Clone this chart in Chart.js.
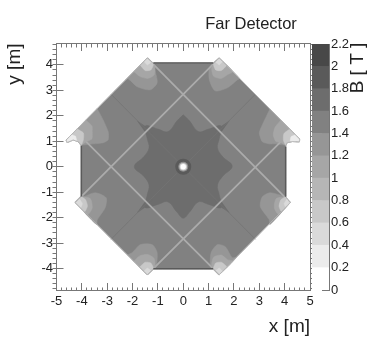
<!DOCTYPE html>
<html>
<head>
<meta charset="utf-8">
<title>Far Detector</title>
<script src="https://cdn.jsdelivr.net/npm/chart.js@4"></script>
<style>
  html, body { margin: 0; padding: 0; background: #fff; }
  canvas { position: absolute; top: 0; }
  #field { left: 0; }
  #palette { left: 300px; }
</style>
</head>
<body>
<canvas id="field" width="374" height="363"></canvas>
<canvas id="palette" width="74" height="363"></canvas>
<script>
// ── Axis ranges and colour bands ────────────────────────────────────────
const xRange = [-5, 5];
const yRange = [-4.84, 4.84];
const bandTicks = [0, 0.2, 0.4, 0.6, 0.8, 1, 1.2, 1.4, 1.6, 1.8, 2, 2.2];
const bandGreys = ["#ffffff", "#ececec", "#dadada", "#c8c8c8", "#b6b6b6", "#a6a6a6",
                   "#969696", "#818181", "#6d6d6d", "#5a5a5a", "#484848"];

// ── Contours, [x, y] in metres ──────────────────────────────────────────
const outline = [[-1.42,4.27],[-1.18,4.07],[1.18,4.07],[1.42,4.27],[4.59,1.09],[4.58,0.98],[4.3,0.99],[4.09,0.94],[4.04,0.8],
  [4.04,-1.18],[4.22,-1.41],[1.42,-4.24],[1.18,-4.01],[-1.18,-4.01],[-1.42,-4.24],[-4.26,-1.41],[-4.02,-1.17],[-4.02,0.82],
  [-4.14,0.98],[-4.34,1.05],[-4.58,0.95],[-4.62,1.05],[-1.42,4.27]];

const star = [[0,2.04],[0.25,1.8],[0.6,1.38],[1.0,1.48],[1.5,1.6],[1.42,1.1],[1.35,0.74],[1.55,0.4],[1.93,0.02],[1.55,-0.38],
  [1.35,-0.72],[1.42,-1.1],[1.5,-1.6],[1.0,-1.48],[0.6,-1.38],[0.25,-1.78],[0,-2.02],[-0.25,-1.78],[-0.6,-1.38],[-1.0,-1.48],
  [-1.5,-1.6],[-1.42,-1.1],[-1.35,-0.72],[-1.55,-0.38],[-1.93,0],[-1.55,0.4],[-1.35,0.74],[-1.42,1.1],[-1.5,1.6],[-1.0,1.48],
  [-0.6,1.38],[-0.25,1.8],[0,2.04]];

const sliverUL = [[-1.82,1.8],[-1.4,1.52],[-1.2,1.28],[-1.55,1.42]];
const sliverUR = [[1.82,1.8],[1.4,1.52],[1.2,1.28],[1.55,1.42]];
const sliverLL = [[-1.82,-1.8],[-1.4,-1.52],[-1.2,-1.28],[-1.55,-1.42]];
const sliverLR = [[1.82,-1.8],[1.4,-1.52],[1.2,-1.28],[1.55,-1.42]];

const topLeft1 = [[-2.3,3.39],[-2.17,3.45],[-1.81,3.14],[-1.3,3.02],[-1.03,3.29],[-1.1,3.73],[-1.18,4.05],[-1.42,4.27]];
const topLeft2 = [[-1.95,3.74],[-1.72,3.55],[-1.4,3.47],[-1.15,3.6],[-1.12,3.9],[-1.18,4.05],[-1.42,4.27]];
const topLeft3 = [[-1.7,3.99],[-1.5,3.78],[-1.28,3.8],[-1.18,4.03],[-1.42,4.27]];
const topLeft4 = [[-1.55,4.14],[-1.42,4.0],[-1.28,4.1],[-1.42,4.27]];

const topRight1 = [[1.18,4.05],[1.03,3.9],[1.03,3.41],[1.26,2.98],[1.74,3.1],[2.13,3.41],[2.22,3.47],[1.42,4.27]];
const topRight2 = [[1.18,4.05],[1.12,3.85],[1.2,3.55],[1.5,3.47],[1.75,3.62],[1.95,3.74],[1.42,4.27]];
const topRight3 = [[1.18,4.03],[1.28,3.8],[1.5,3.78],[1.7,3.99],[1.42,4.27]];
const topRight4 = [[1.28,4.1],[1.42,4.0],[1.55,4.14],[1.42,4.27]];

const leftSpike1 = [[-3.4,2.29],[-3.16,1.84],[-2.96,1.37],[-2.96,1.06],[-3.16,0.94],[-3.55,0.9],[-4.02,0.86],[-4.14,0.98],[-4.34,1.05],[-4.58,0.95],[-4.62,1.05]];
const leftSpike2 = [[-3.85,1.84],[-3.6,1.6],[-3.59,1.37],[-3.6,1.1],[-3.83,0.98],[-4.02,0.86],[-4.14,0.98],[-4.34,1.05],[-4.58,0.95],[-4.62,1.05]];
const leftSpike3 = [[-4.2,1.49],[-3.94,1.33],[-3.94,1.06],[-4.02,0.86],[-4.14,0.98],[-4.34,1.05],[-4.58,0.95],[-4.62,1.05]];
const leftSpike4 = [[-4.42,1.27],[-4.25,1.2],[-4.2,1.0],[-4.34,1.05],[-4.58,0.95],[-4.62,1.05]];

const rightSpike1 = [[3.42,2.27],[3.12,1.65],[3.0,1.33],[3.12,0.98],[3.4,0.9],[3.63,0.9],[4.04,0.85],[4.09,0.94],[4.3,0.99],[4.58,0.98],[4.59,1.09]];
const rightSpike2 = [[3.85,1.83],[3.62,1.55],[3.55,1.25],[3.65,1.0],[3.85,0.95],[4.04,0.85],[4.09,0.94],[4.3,0.99],[4.58,0.98],[4.59,1.09]];
const rightSpike3 = [[4.2,1.48],[3.97,1.3],[3.95,1.05],[4.04,0.85],[4.09,0.94],[4.3,0.99],[4.58,0.98],[4.59,1.09]];
const rightSpike4 = [[4.42,1.26],[4.25,1.18],[4.22,1.0],[4.3,0.99],[4.58,0.98],[4.59,1.09]];

const lowerLeft1 = [[-4.02,-1.15],[-3.94,-1.18],[-3.47,-1.02],[-3.04,-1.22],[-3.08,-1.61],[-3.39,-2.08],[-3.42,-2.27],[-4.26,-1.41]];
const lowerLeft2 = [[-4.02,-1.17],[-3.67,-1.25],[-3.59,-1.61],[-3.75,-1.88],[-3.83,-1.83],[-4.26,-1.41]];
const lowerLeft3 = [[-4.02,-1.17],[-3.85,-1.3],[-3.78,-1.55],[-3.9,-1.77],[-4.26,-1.41]];
const lowerLeft4 = [[-4.1,-1.25],[-3.98,-1.45],[-4.05,-1.62],[-4.26,-1.41]];

const lowerRight1 = [[4.04,-1.18],[3.43,-1.02],[3.12,-1.18],[3.04,-1.57],[3.39,-2.08],[3.42,-2.27],[4.22,-1.41]];
const lowerRight2 = [[4.04,-1.18],[3.67,-1.25],[3.59,-1.61],[3.75,-1.88],[3.81,-1.85],[4.22,-1.41]];
const lowerRight3 = [[4.04,-1.18],[3.85,-1.3],[3.78,-1.55],[3.88,-1.76],[4.22,-1.41]];
const lowerRight4 = [[4.1,-1.25],[3.98,-1.45],[4.05,-1.6],[4.22,-1.41]];

const bottomLeft1 = [[-2.2,-3.46],[-2.01,-3.37],[-1.7,-3.06],[-1.22,-3.06],[-1.03,-3.37],[-1.07,-3.92],[-1.18,-4.01],[-1.42,-4.24]];
const bottomLeft2 = [[-1.95,-3.71],[-1.72,-3.5],[-1.4,-3.45],[-1.15,-3.6],[-1.12,-3.9],[-1.18,-4.01],[-1.42,-4.24]];
const bottomLeft3 = [[-1.72,-3.94],[-1.5,-3.75],[-1.28,-3.78],[-1.18,-4.0],[-1.42,-4.24]];
const bottomLeft4 = [[-1.55,-4.11],[-1.42,-3.98],[-1.28,-4.08],[-1.42,-4.24]];

const bottomRight1 = [[1.18,-4.01],[1.07,-3.92],[1.1,-3.37],[1.34,-3.06],[1.66,-3.14],[1.93,-3.57],[2.1,-3.56],[1.42,-4.24]];
const bottomRight2 = [[1.18,-4.01],[1.12,-3.85],[1.2,-3.55],[1.5,-3.47],[1.75,-3.65],[1.95,-3.71],[1.42,-4.24]];
const bottomRight3 = [[1.18,-4.0],[1.28,-3.78],[1.5,-3.75],[1.72,-3.94],[1.42,-4.24]];
const bottomRight4 = [[1.28,-4.08],[1.42,-3.98],[1.55,-4.11],[1.42,-4.24]];

// light gaps between the steel plates, thin seams through the centre, dark straight edges
const gaps = [[[-1.42,4.27],[4.22,-1.41]], [[1.42,4.27],[-4.26,-1.41]], [[-4.02,1.17],[1.42,-4.24]], [[4.04,1.17],[-1.42,-4.24]]];
const seams = [[[-2.85,2.85],[2.85,-2.85]], [[2.85,2.85],[-2.85,-2.85]]];
const edges = [[[-1.18,4.07],[1.18,4.07]], [[1.18,-4.01],[-1.18,-4.01]], [[-4.02,0.82],[-4.02,-1.17]], [[4.04,0.8],[4.04,-1.18]]];

// ── Helpers ─────────────────────────────────────────────────────────────
const FONT = "'Liberation Sans', Arial, sans-serif";
const TICK = "#777777";
const INK = "#222222";

function toPoints(pts) {
  return pts.map(p => ({ x: p[0], y: p[1] }));
}

function band(pts, level, tension) {
  const c = bandGreys[level];
  return { data: toPoints(pts), showLine: true, fill: "shape", backgroundColor: c, borderColor: c,
           borderWidth: 0.5, tension: tension, pointRadius: 0 };
}

function stroke(pts, color, width) {
  return { data: toPoints(pts), showLine: true, fill: false, borderColor: color, borderWidth: width,
           tension: 0.001, pointRadius: 0 };
}

function dot(radius, color) {
  return { data: [{ x: 0, y: 0 }], showLine: false, pointRadius: radius, pointBackgroundColor: color,
           pointBorderWidth: 0 };
}

function tickAxis(range, step, len, pos) {
  return {
    type: "linear", min: range[0], max: range[1], position: pos,
    ticks: { display: false, stepSize: step, includeBounds: false, autoSkip: false },
    grid: { drawOnChartArea: false, tickLength: len, tickColor: TICK },
    border: { display: true, color: TICK },
  };
}

function labelText(chart, text, x, y, size, rot) {
  const ctx = chart.ctx;
  ctx.save();
  ctx.translate(x, y);
  ctx.rotate(rot);
  ctx.font = size + "px " + FONT;
  ctx.fillStyle = INK;
  ctx.textAlign = "center";
  ctx.textBaseline = "middle";
  ctx.fillText(text, 0, 0);
  ctx.restore();
}

// ── Field map, listed in painting order ─────────────────────────────────
const painted = [
  band(outline, 7, 0.001),
  band(star, 8, 0.4),
  band(sliverUL, 8, 0.001), band(sliverUR, 8, 0.001), band(sliverLL, 8, 0.001), band(sliverLR, 8, 0.001),
  ...seams.map(s => stroke(s, "#747474", 0.8)),
  band(topLeft1, 6, 0.25), band(topRight1, 6, 0.25), band(leftSpike1, 6, 0.2), band(rightSpike1, 6, 0.2),
  band(lowerLeft1, 6, 0.25), band(lowerRight1, 6, 0.25), band(bottomLeft1, 6, 0.25), band(bottomRight1, 6, 0.25),
  ...gaps.map(g => stroke(g, "#ababab", 1.8)),
  band(topLeft2, 5, 0.25), band(topLeft3, 3, 0.2), band(topLeft4, 2, 0.1),
  band(topRight2, 5, 0.25), band(topRight3, 3, 0.2), band(topRight4, 2, 0.1),
  band(leftSpike2, 5, 0.2), band(leftSpike3, 3, 0.2), band(leftSpike4, 1, 0.1),
  band(rightSpike2, 5, 0.2), band(rightSpike3, 3, 0.2), band(rightSpike4, 1, 0.1),
  band(lowerLeft2, 5, 0.25), band(lowerLeft3, 3, 0.2), band(lowerLeft4, 2, 0.1),
  band(lowerRight2, 5, 0.25), band(lowerRight3, 3, 0.2), band(lowerRight4, 2, 0.1),
  band(bottomLeft2, 5, 0.25), band(bottomLeft3, 3, 0.2), band(bottomLeft4, 2, 0.1),
  band(bottomRight2, 5, 0.25), band(bottomRight3, 3, 0.2), band(bottomRight4, 2, 0.1),
  stroke(outline, "#b4b4b4", 1),
  ...edges.map(e => stroke(e, "#5a5a5a", 1.5)),
  dot(8, "#5a5a5a"), dot(5, "#8f8f8f"), dot(3.8, "#cfcfcf"), dot(2.7, "#ffffff"),
];

new Chart(document.getElementById("field"), {
  type: "scatter",
  data: { datasets: painted.slice().reverse() },
  options: {
    responsive: false,
    animation: false,
    layout: { padding: { top: 43.5, right: 64, left: 0, bottom: 25 } },
    plugins: { legend: { display: false }, tooltip: { enabled: false } },
    scales: {
      x: {
        type: "linear", min: xRange[0], max: xRange[1], position: "bottom",
        afterFit: s => { s.height = 48; },
        title: { display: true, text: "x [m]", align: "end", color: INK, font: { family: FONT, size: 19 }, padding: { top: 0, bottom: 0 } },
        ticks: { stepSize: 1, autoSkip: false, padding: 11, color: INK, font: { family: FONT, size: 13 }, maxRotation: 0 },
        grid: { drawOnChartArea: false, tickLength: -7, tickColor: TICK },
        border: { display: true, color: TICK },
      },
      y: {
        type: "linear", min: yRange[0], max: yRange[1], position: "left",
        afterFit: s => { s.width = 56.5; },
        title: { display: true, text: "y [m]", align: "end", color: INK, font: { family: FONT, size: 19 }, padding: { top: 3, bottom: 0 } },
        ticks: { stepSize: 1, includeBounds: false, autoSkip: false, padding: 10.5, color: INK, font: { family: FONT, size: 13 } },
        grid: { drawOnChartArea: false, tickLength: -7, tickColor: TICK },
        border: { display: true, color: TICK },
      },
      xBottomMinor: { axis: "x", ...tickAxis(xRange, 0.2, -3.5, { y: yRange[0] }) },
      xTopMajor: { axis: "x", ...tickAxis(xRange, 1, 7, { y: yRange[1] }) },
      xTopMinor: { axis: "x", ...tickAxis(xRange, 0.2, 3.5, { y: yRange[1] }) },
      yLeftMinor: { axis: "y", ...tickAxis(yRange, 0.2, 3.5, { x: xRange[0] }) },
      yRightMajor: { axis: "y", ...tickAxis(yRange, 1, -7, { x: xRange[1] }) },
      yRightMinor: { axis: "y", ...tickAxis(yRange, 0.2, -3.5, { x: xRange[1] }) },
    },
  },
  plugins: [{
    id: "farDetectorTitle",
    afterDraw: chart => labelText(chart, "Far Detector", 251, 24, 16.5, 0),
  }],
});

// ── Palette ─────────────────────────────────────────────────────────────
new Chart(document.getElementById("palette"), {
  type: "bar",
  data: {
    labels: ["B"],
    datasets: bandGreys.map((c, i) => ({
      data: [+(bandTicks[i + 1] - bandTicks[i]).toFixed(1)],
      backgroundColor: c, barPercentage: 1, categoryPercentage: 1,
    })),
  },
  options: {
    responsive: false,
    animation: false,
    layout: { padding: { top: 44, left: 12, right: 0, bottom: 73 } },
    plugins: { legend: { display: false }, tooltip: { enabled: false } },
    scales: {
      x: { stacked: true, display: false },
      y: {
        stacked: true, min: 0, max: 2.2, position: "right",
        afterFit: s => { s.width = 45; },
        ticks: {
          stepSize: 0.2, autoSkip: false, padding: 9, color: INK, font: { family: FONT, size: 13 },
          callback: v => String(+v.toFixed(1)),
        },
        grid: { drawOnChartArea: false, tickLength: -7, tickColor: TICK },
        border: { display: true, color: TICK },
      },
    },
  },
  plugins: [{
    id: "bandTitle",
    afterDraw: chart => labelText(chart, "B [ T ]", 58, 68, 19, -Math.PI / 2),
  }],
});
</script>
</body>
</html>
